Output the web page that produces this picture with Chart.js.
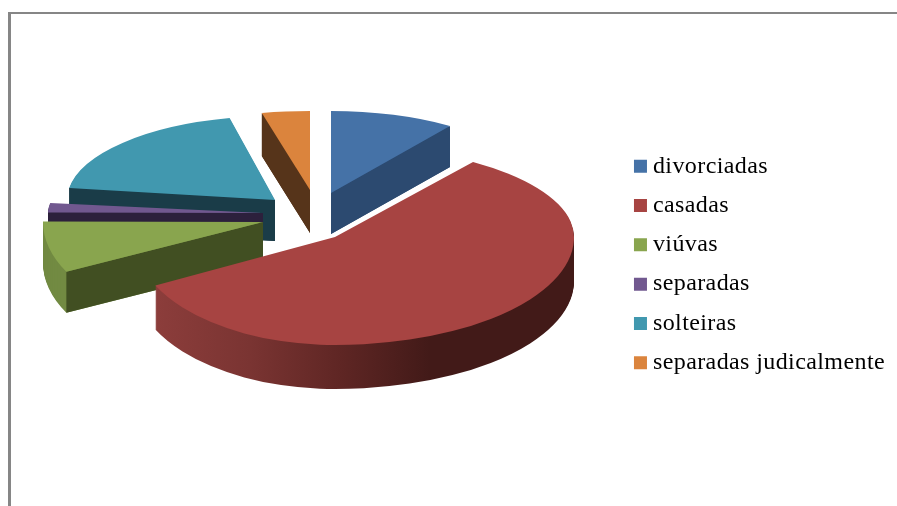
<!DOCTYPE html>
<html>
<head>
<meta charset="utf-8">
<title>Estado civil</title>
<script src="https://cdn.jsdelivr.net/npm/chart.js@4"></script>
<style>
  html, body { margin: 0; padding: 0; background: #fff; overflow: hidden; }
  #frame { position: absolute; left: 8px; top: 12px; right: 0; bottom: 0; border-top: 2px solid #868686; border-left: 3px solid #868686; }
  #myChart { position: absolute; left: 0; top: 0; }
</style>
</head>
<body>
<div id="frame"></div>
<canvas id="myChart" width="897" height="506"></canvas>
<script>
const categories = ["divorciadas", "casadas", "viúvas", "separadas", "solteiras", "separadas judicalmente"];
const percentages = [9.8, 57.8, 7.5, 2.2, 19.2, 3.5];
const topColors = ["#4572a7", "#a74442", "#89a54e", "#71588f", "#4198af", "#db843d"];
const cutColors = ["#2c4a70", "#6b2a28", "#414f22", "#2c203c", "#1a3c48", "#56341a"];
const wallColors = ["#2c4a70", null, "#728a42", "#2c203c", "#1a3c48", "#56341a"];

// how each exploded slice lies on the tilted plane: apex, radii per quadrant, thickness
const sliceViews = [
  { x: 331, y: 193, left: 206, right: 206, up: 82, down: 82, depth: 41 },
  { x: 335, y: 237, left: 201, right: 239, up: 92, down: 108, depth: 44 },
  { x: 263, y: 222, left: 220, right: 220, up: 80, down: 111, depth: 41 },
  { x: 263, y: 213, left: 215, right: 215, up: 70, down: 70, depth: 40 },
  { x: 275, y: 200, left: 208, right: 190, up: 84, down: 84, depth: 41 },
  { x: 310, y: 190, left: 221, right: 221, up: 79, down: 79, depth: 43 }
];
const drawOrder = [5, 0, 4, 3, 2, 1];

// shading of the big slice wall, left to right
const redWallStops = [[155, "#8c3d3b"], [250, "#7a3432"], [340, "#5f2624"], [430, "#421a18"], [574, "#421a18"]];

const quadrants = [[-1, -1], [1, -1], [-1, 1], [1, 1]];

// draws the arc element squashed onto the plane, quadrant by quadrant
function drawFace(ctx, arc, view, shift, fill) {
  const r = arc.outerRadius;
  quadrants.forEach(q => {
    const sx = (q[0] < 0 ? view.left : view.right) / r;
    const sy = (q[1] < 0 ? view.up : view.down) / r;
    const ay = view.y + shift;
    ctx.save();
    ctx.beginPath();
    ctx.rect(q[0] < 0 ? 0 : view.x, q[1] < 0 ? 0 : ay, q[0] < 0 ? view.x : 897, q[1] < 0 ? ay : 506);
    ctx.clip();
    ctx.translate(view.x, ay);
    ctx.scale(sx, sy);
    ctx.translate(-arc.x, -arc.y);
    let color = fill;
    if (!color) {
      // gradient coordinates live in the scaled space
      const toLocal = px => arc.x + (px - view.x) / sx;
      const first = redWallStops[0][0], last = redWallStops[redWallStops.length - 1][0];
      color = ctx.createLinearGradient(toLocal(first), 0, toLocal(last), 0);
      redWallStops.forEach(s => color.addColorStop((s[0] - first) / (last - first), s[1]));
    }
    const old = arc.options;
    arc.options = Object.assign({}, old, { backgroundColor: color, borderWidth: 0 });
    arc.draw(ctx);
    arc.options = old;
    ctx.restore();
  });
}

function rimPoint(view, angle) {
  const ux = Math.cos(angle), uy = Math.sin(angle);
  return { x: view.x + ux * (ux < 0 ? view.left : view.right), y: view.y + uy * (uy < 0 ? view.up : view.down) };
}

// a cut face only shows when the top of the slice lies above that edge
function drawCut(ctx, view, angle, midAngle, color) {
  const p = rimPoint(view, angle), m = rimPoint(view, midAngle);
  if (p.x === view.x) return;
  const edgeY = view.y + (p.y - view.y) * (m.x - view.x) / (p.x - view.x);
  if (m.y >= edgeY) return;
  ctx.fillStyle = color;
  ctx.beginPath();
  ctx.moveTo(view.x, view.y);
  ctx.lineTo(p.x, p.y);
  ctx.lineTo(p.x, p.y + view.depth);
  ctx.lineTo(view.x, view.y + view.depth);
  ctx.closePath();
  ctx.fill();
}

const pie3d = {
  id: "pie3d",
  beforeLayout(chart) {
    chart.ctx.letterSpacing = "0.4px";
  },
  beforeDatasetsDraw(chart) {
    const ctx = chart.ctx;
    const arcs = chart.getDatasetMeta(0).data;
    drawOrder.forEach(i => {
      const arc = arcs[i], view = sliceViews[i];
      const mid = (arc.startAngle + arc.endAngle) / 2;
      for (let d = view.depth; d > 0; d--) drawFace(ctx, arc, view, d, wallColors[i]);
      drawCut(ctx, view, arc.startAngle, mid, cutColors[i]);
      drawCut(ctx, view, arc.endAngle, mid, cutColors[i]);
      drawFace(ctx, arc, view, 0, topColors[i]);
    });
    return false;
  }
};

let chart = new Chart(document.getElementById("myChart").getContext("2d"), {
  type: "pie",
  data: {
    labels: categories,
    datasets: [{ data: percentages, backgroundColor: topColors, borderWidth: 0 }]
  },
  options: {
    responsive: false,
    animation: false,
    layout: { padding: { top: 23, right: 2 } },
    plugins: {
      tooltip: { enabled: false },
      legend: {
        position: "right",
        labels: {
          usePointStyle: true,
          pointStyle: "rect",
          boxWidth: 1,
          boxHeight: 13,
          padding: 15.3,
          color: "#000",
          font: { family: "'Liberation Serif', serif", size: 24 }
        }
      }
    }
  },
  plugins: [pie3d]
});
</script>
</body>
</html>
